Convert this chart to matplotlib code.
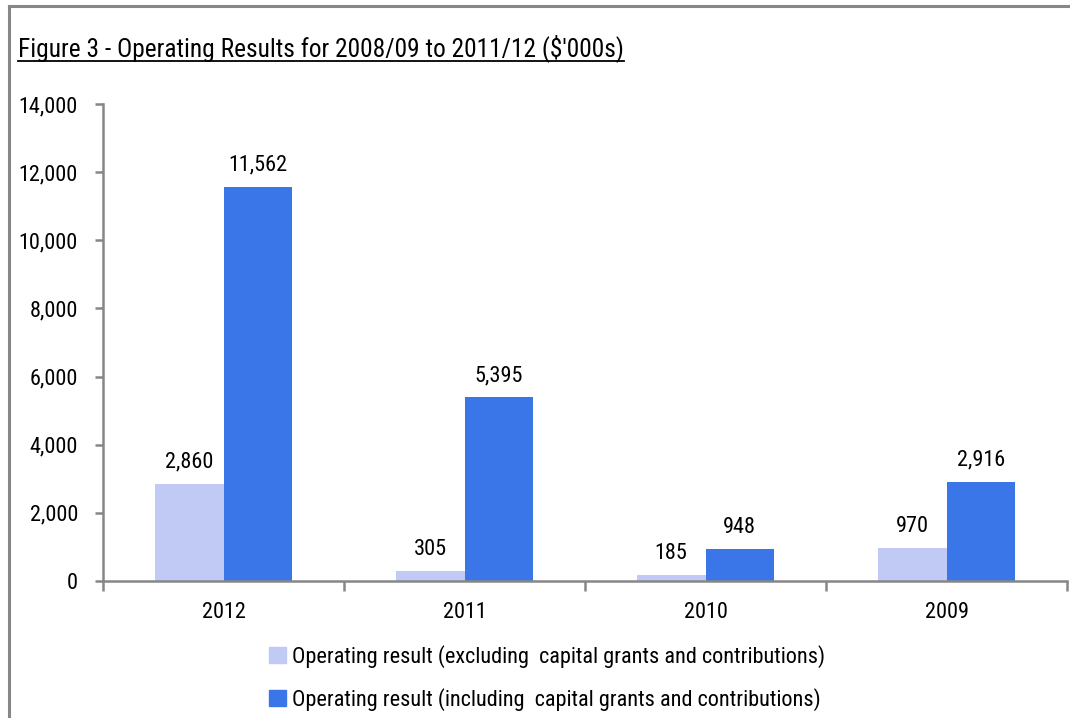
import matplotlib
matplotlib.use("Agg")
import matplotlib.pyplot as plt
import numpy as np
from matplotlib.lines import Line2D
from matplotlib.patches import Patch
import logging

logging.getLogger("matplotlib.font_manager").setLevel(logging.ERROR)

years = ["2012", "2011", "2010", "2009"]
excl_capital = [2860, 305, 185, 970]
incl_capital = [11562, 5395, 948, 2916]
series_names = [
    "Operating result (excluding  capital grants and contributions)",
    "Operating result (including  capital grants and contributions)",
]
title = "Figure 3 - Operating Results for 2008/09 to 2011/12 ($'000s)"

plt.rcParams["font.family"] = ["Arial Narrow", "Liberation Sans Narrow", "Roboto Condensed",
                               "Archivo Narrow", "PT Sans Narrow", "Liberation Sans"]

light = "#c0caf5"
dark = "#3a76e8"
grey = "#878787"
fs = 16

fig = plt.figure(figsize=(10.7, 7.18), dpi=100)
ax = fig.add_axes([0.0963, 0.1908, 0.9009, 0.6644])

x = np.arange(len(years))
w = 0.285
b1 = ax.bar(x - w / 2, excl_capital, w, color=light)
b2 = ax.bar(x + w / 2, incl_capital, w, color=dark)

for bars, vals in ((b1, excl_capital), (b2, incl_capital)):
    for r, v in zip(bars, vals):
        ax.annotate(f"{v:,}", (r.get_x() + r.get_width() / 2, v),
                    xytext=(0, 8), textcoords="offset points",
                    ha="center", va="bottom", fontsize=fs)

ax.set_xlim(-0.5, 3.5)
ax.set_ylim(0, 14000)
ax.set_yticks(np.arange(0, 14001, 2000))
ax.yaxis.set_major_formatter(matplotlib.ticker.FuncFormatter(lambda v, p: f"{int(v):,}"))
ax.set_xticks(x)
ax.set_xticklabels(years)
ax.set_xticks(np.arange(-0.5, 3.6, 1), minor=True)
ax.tick_params(axis="x", which="major", length=0, labelsize=fs, pad=15)
ax.tick_params(axis="x", which="minor", length=7, width=1.8, color=grey, direction="out")
ax.tick_params(axis="y", length=6, width=1.8, color=grey, labelsize=fs, pad=12)

for s in ("top", "right"):
    ax.spines[s].set_visible(False)
for s in ("left", "bottom"):
    ax.spines[s].set_color(grey)
    ax.spines[s].set_linewidth(1.8)

# outer frame (top and left edges)
fig.add_artist(Line2D([9 / 1070, 1.0], [1 - 6 / 718, 1 - 6 / 718], color=grey, lw=2.2))
fig.add_artist(Line2D([9 / 1070, 9 / 1070], [0, 1 - 6 / 718], color=grey, lw=2.2))

# underlined heading
t = fig.text(18 / 1070, 1 - 56 / 718, title, fontsize=18.3, ha="left", va="baseline")
fig.canvas.draw()
bb = t.get_window_extent(fig.canvas.get_renderer()).transformed(fig.transFigure.inverted())
uy = 1 - 61 / 718
fig.add_artist(Line2D([bb.x0, bb.x1], [uy, uy], color="black", lw=1.3))

handles = [Patch(color=light), Patch(color=dark)]
fig.legend(handles, series_names, loc="upper left", bbox_to_anchor=(269 / 1070, 1 - 645 / 718),
           frameon=False, fontsize=fs, handlelength=0.75, handleheight=0.75,
           handletextpad=0.3, labelspacing=0.9, borderpad=0, borderaxespad=0)

fig.savefig("out.png", dpi=100, facecolor="white")
